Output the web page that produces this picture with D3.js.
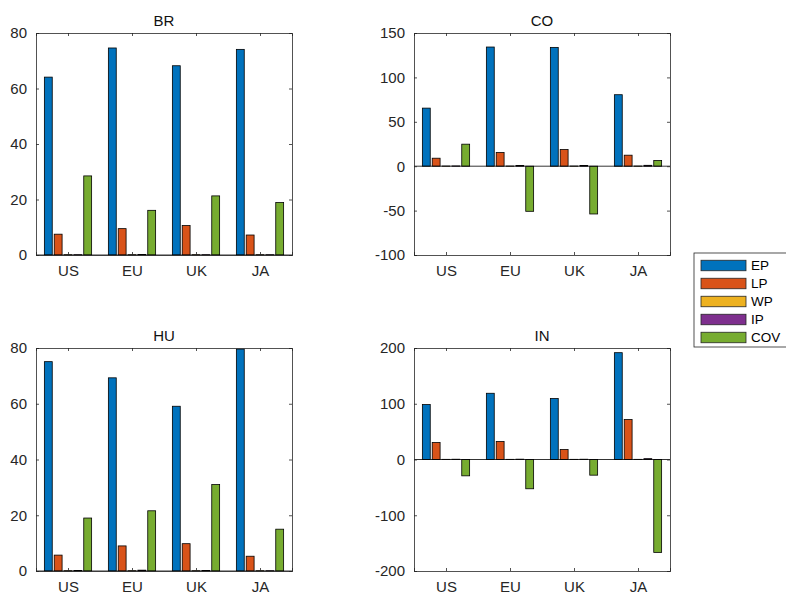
<!DOCTYPE html>
<html>
<head>
<meta charset="utf-8">
<script src="https://cdn.jsdelivr.net/npm/d3@7"></script>
<style>
body{margin:0;background:#fff}
svg{font-family:"Liberation Sans",Arial,sans-serif}
</style>
</head>
<body>
<div id="chart"></div>
<script>
var categories = ["US","EU","UK","JA"]
var seriesNames = ["EP","LP","WP","IP","COV"]
var colors = ["#0072BD","#D95319","#EDB120","#7E2F8E","#77AC30"]

// values per series, in category order US, EU, UK, JA
var brEP = [64.1,74.6,68.2,74.1]
var brLP = [7.5,9.5,10.6,7.2]
var brWP = [0.1,0.1,0.1,0.1]
var brIP = [0.1,0.2,0.1,0.1]
var brCOV = [28.5,16.1,21.3,18.9]

var coEP = [65.4,134.2,133.8,80.5]
var coLP = [9.0,15.4,18.8,12.4]
var coWP = [0.2,0.2,0.2,0.2]
var coIP = [0.3,0.8,0.8,1.0]
var coCOV = [24.8,-50.8,-53.8,6.4]

var huEP = [75.1,69.3,59.1,79.6]
var huLP = [5.7,9.0,9.8,5.3]
var huWP = [0.1,0.1,0.1,0.1]
var huIP = [0.2,0.3,0.2,0.1]
var huCOV = [19.0,21.6,31.0,15.0]

var inEP = [98.5,118.8,109.3,191.6]
var inLP = [30.4,32.2,17.9,71.6]
var inWP = [0.3,0.3,0.3,0.3]
var inIP = [0.5,0.6,0.5,1.5]
var inCOV = [-29.3,-52.5,-28.1,-166.6]

var brTicks = [0,20,40,60,80]
var coTicks = [-100,-50,0,50,100,150]
var huTicks = [0,20,40,60,80]
var inTicks = [-200,-100,0,100,200]

var svg = d3.select("#chart").append("svg").attr("width",786).attr("height",592)

function drawPanel(title,series,domain,ticks,left,top,width,height){
    var axisColor = "#262626"
    var g = svg.append("g").attr("transform","translate("+left+","+top+")")
    var x = d3.scaleLinear().domain([0.5,4.5]).range([0,width])
    var y = d3.scaleLinear().domain(domain).range([height,0])
    var nb = series.length
    var groupWidth = Math.min(0.8, nb/(nb+1.5))
    var slot = groupWidth/nb
    var barW = slot*0.8

    // bars
    series.forEach(function(vals,s){
        g.selectAll(".bar"+s)
            .data(vals)
            .enter()
            .append("rect")
            .attr("x",function(d,i){
                var c = (i+1) - groupWidth/2 + slot*(s+0.5)
                return x(c - barW/2)
            })
            .attr("width",x(barW)-x(0))
            .attr("y",function(d){return y(Math.max(0,d))})
            .attr("height",function(d){return Math.abs(y(d)-y(0))})
            .attr("fill",colors[s])
            .attr("stroke","#000")
            .attr("stroke-width",0.8)
    })

    // baseline
    g.append("line").attr("x1",0).attr("x2",width)
        .attr("y1",y(0)).attr("y2",y(0))
        .attr("stroke","#000").attr("stroke-width",0.8)

    // axes
    var left_ = d3.axisLeft(y).tickValues(ticks).tickSize(-3).tickPadding(9)
        .tickFormat(function(d){return String(d)})
    var right_ = d3.axisRight(y).tickValues(ticks).tickSize(-3).tickFormat("")
    var bottom_ = d3.axisBottom(x).tickValues([1,2,3,4]).tickSize(-3).tickPadding(10)
        .tickFormat(function(d){return categories[d-1]})
    var top_ = d3.axisTop(x).tickValues([1,2,3,4]).tickSize(-3).tickFormat("")

    var ga = [
        g.append("g").call(left_),
        g.append("g").attr("transform","translate("+width+",0)").call(right_),
        g.append("g").attr("transform","translate(0,"+height+")").call(bottom_),
        g.append("g").call(top_)
    ]
    ga.forEach(function(a){
        a.select(".domain").attr("stroke",axisColor).attr("stroke-width",0.8)
        a.selectAll(".tick line").attr("stroke",axisColor).attr("stroke-width",0.8)
        a.selectAll("text").attr("fill",axisColor).attr("font-size",15)
            .attr("font-family","Liberation Sans, Arial, sans-serif")
    })

    g.append("text").text(title)
        .attr("x",width/2).attr("y",-7)
        .attr("text-anchor","middle")
        .attr("font-size",15)
        .attr("font-weight","normal")
        .attr("fill","#111")
}

drawPanel("BR",[brEP,brLP,brWP,brIP,brCOV],[0,80],brTicks,36,33,256,222)
drawPanel("CO",[coEP,coLP,coWP,coIP,coCOV],[-100,150],coTicks,414,33,256,222)
drawPanel("HU",[huEP,huLP,huWP,huIP,huCOV],[0,80],huTicks,36,348,256,223)
drawPanel("IN",[inEP,inLP,inWP,inIP,inCOV],[-200,200],inTicks,414,348,256,223)

// legend
var legend = svg.append("g").attr("transform","translate(694,253)")
legend.append("rect").attr("x",0).attr("y",0).attr("width",96).attr("height",94)
    .attr("fill","#fff").attr("stroke","#262626").attr("stroke-width",0.8)
var ly = d3.scalePoint().domain(seriesNames).range([12.5,84.5])
seriesNames.forEach(function(n,i){
    legend.append("rect").attr("x",7).attr("y",ly(n)-5.25).attr("width",45).attr("height",10.5)
        .attr("fill",colors[i]).attr("stroke","#262626").attr("stroke-width",0.8)
    legend.append("text").text(n).attr("x",57).attr("y",ly(n)+4.8)
        .attr("font-size",13.5).attr("fill","#000")
})
</script>
</body>
</html>
